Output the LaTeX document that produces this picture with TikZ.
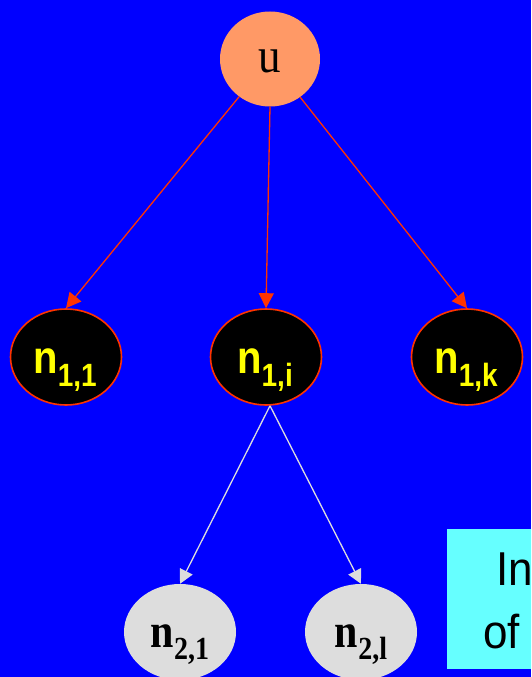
\documentclass[tikz,border=0pt]{standalone}
\usepackage{fontspec}
\usepackage{graphicx}
\setmainfont{Liberation Serif}
\newfontfamily\labelsans{Liberation Sans}
\usetikzlibrary{shapes.geometric,arrows.meta}

\definecolor{bgblue}{RGB}{0,0,255}
\definecolor{rootfill}{RGB}{255,153,102}
\definecolor{edgered}{RGB}{255,51,0}
\definecolor{labelyellow}{RGB}{255,255,0}
\definecolor{leafgray}{RGB}{221,221,221}
\definecolor{notecyan}{RGB}{102,255,255}

\tikzset{
  rootnode/.style={ellipse, fill=rootfill, minimum width=100pt, minimum height=95pt, inner sep=0pt},
  levelone/.style={ellipse, fill=black, draw=edgered, line width=1.6pt, minimum width=111pt,
    minimum height=96pt, inner sep=0pt},
  leveltwo/.style={ellipse, fill=leafgray, minimum width=112pt, minimum height=96pt, inner sep=0pt},
  nodetext/.style={anchor=base, inner sep=0pt},
  redarrow/.style={draw=edgered, line width=1.3pt, -{Triangle[length=15pt,width=15pt,fill=edgered]}},
  grayarrow/.style={draw=leafgray, line width=1.3pt, -{Triangle[length=14pt,width=14pt,fill=leafgray]}},
  notetext/.style={anchor=base west, inner sep=0pt, font=\labelsans\fontsize{44}{44}\selectfont}
}

% bold sans label with a lowered subscript, stretched upright
\newcommand{\sanslabel}[2]{\textcolor{labelyellow}{\scalebox{1}[1.15]{\labelsans\bfseries\fontsize{40}{40}\selectfont #1\raisebox{-12pt}{\fontsize{28}{28}\selectfont #2}}}}
% bold serif label with a lowered subscript, stretched upright
\newcommand{\seriflabel}[2]{\scalebox{1}[1.15]{\bfseries\fontsize{42}{42}\selectfont #1\raisebox{-11pt}{\fontsize{28}{28}\selectfont #2}}}

\begin{document}
\begin{tikzpicture}[x=1pt, y=-1pt]
  \useasboundingbox (0,0) rectangle (531,677);
  \clip (0,0) rectangle (531,677);
  \fill[bgblue] (0,0) rectangle (531,677);

  % side note box, running off the right edge
  \fill[notecyan] (447,529) rectangle (600,669);
  \node[notetext] (noteA) at (496,585) {\scalebox{1}[1.08]{In}};
  \node[notetext] (noteB) at (483,648) {\scalebox{1}[1.08]{of}};

  % tree nodes
  \node[rootnode] (u) at (270,59) {};
  \node[levelone] (n11) at (66,357) {};
  \node[levelone] (n1i) at (266,357) {};
  \node[levelone] (n1k) at (467,357) {};
  \node[leveltwo] (n21) at (180,632) {};
  \node[leveltwo] (n2l) at (361,632) {};

  % labels, set on their baselines inside the nodes
  \node[nodetext] (ulab) at ([yshift=-14pt]u.center) {\scalebox{1}[1.1]{\fontsize{45}{45}\selectfont u}};
  \node[nodetext] (n11lab) at ([xshift=-1pt,yshift=-16pt]n11.center) {\sanslabel{n}{1,1}};
  \node[nodetext] (n1ilab) at ([xshift=-1pt,yshift=-16pt]n1i.center) {\sanslabel{n}{1,i}};
  \node[nodetext] (n1klab) at ([xshift=-1pt,yshift=-16pt]n1k.center) {\sanslabel{n}{1,k}};
  \node[nodetext] (n21lab) at ([yshift=-15pt]n21.center) {\seriflabel{n}{2,1}};
  \node[nodetext] (n2llab) at ([yshift=-15pt]n2l.center) {\seriflabel{n}{2,l}};

  % edges
  \draw[redarrow] (u) -- (n11.north);
  \draw[redarrow] (u.south) -- (n1i.north);
  \draw[redarrow] (u) -- (n1k.north);
  \draw[grayarrow] ([xshift=4pt]n1i.south) -- (n21.north);
  \draw[grayarrow] ([xshift=4pt]n1i.south) -- (n2l.north);
\end{tikzpicture}
\end{document}
